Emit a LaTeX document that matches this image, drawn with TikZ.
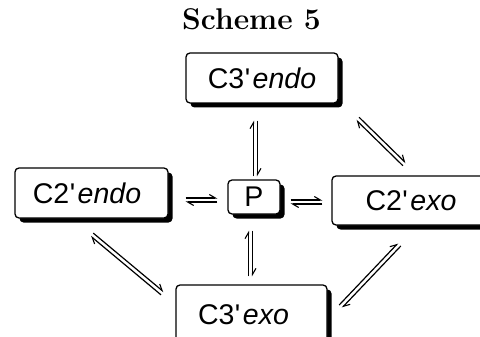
\documentclass[tikz,border=0pt]{standalone}
\usepackage{fontspec}
\setsansfont{Liberation Sans}
\usetikzlibrary{arrows.meta,calc,shadows}
\newcommand\eqarrow[2]{%
  \draw[harp] ($(#1)!2pt!90:(#2)$) -- ($(#2)!2pt!-90:(#1)$);
  \draw[harp] ($(#2)!2pt!90:(#1)$) -- ($(#1)!2pt!-90:(#2)$);}
\newcommand\apos{\kern0.5pt\textquotesingle\kern2.5pt}
\begin{document}
\begin{tikzpicture}[x=1pt,y=-1pt,
  box/.style={draw=black, line width=1.3pt, rounded corners=4pt, fill=white,
    drop shadow={shadow xshift=4.5pt, shadow yshift=-4.5pt, fill=black, opacity=1},
    font=\sffamily\fontsize{28.5}{32}\selectfont, inner sep=0pt, align=center},
  harp/.style={line width=1.2pt, -{Straight Barb[harpoon,length=6pt,width=7pt,line width=1.1pt]}}]
\useasboundingbox (0,0) rectangle (480,337);
\node[font=\fontsize{30}{34}\selectfont\bfseries, anchor=base] (title) at (251.5,30) {Scheme 5};
\node[box, minimum width=152pt, minimum height=50pt] (c3endo) at (262,78) {C3\apos\textit{endo}};
\node[box, minimum width=153pt, minimum height=50pt] (c2endo) at (91.5,193) {C2\apos\textit{endo}\kern9pt};
\node[box, minimum width=52pt, minimum height=34pt] (p) at (254,197) {P};
\node[box, minimum width=158pt, minimum height=49pt] (c2exo) at (411,200.5) {C2\apos\textit{exo}};
\node[box, minimum width=151pt, minimum height=60pt] (c3exo) at (251.5,315) {C3\apos\textit{exo}\kern16pt};
\coordinate (a1) at ([shift={(-6.5,17)}]c3endo.south);
\coordinate (b1) at ([shift={(1.5,-3)}]p.north);
\coordinate (a2) at ([shift={(17,7)}]c2endo.east);
\coordinate (b2) at ([shift={(-10,3)}]p.west);
\coordinate (a3) at ([shift={(10,5)}]p.east);
\coordinate (b3) at ([shift={(-9,1.5)}]c2exo.west);
\coordinate (a4) at ([shift={(-3.5,16)}]p.south);
\coordinate (b4) at ([shift={(-1,-8)}]c3exo.north);
\coordinate (a5) at ([shift={(19,15)}]c3endo.south east);
\coordinate (b5) at ([shift={(73,-11)}]c2exo.north west);
\coordinate (a6) at ([shift={(0.5,16)}]c2endo.south);
\coordinate (b6) at ([shift={(-13,9)}]c3exo.north west);
\coordinate (a7) at ([shift={(13,22)}]c3exo.north east);
\coordinate (b7) at ([shift={(68,19)}]c2exo.south west);
\eqarrow{a1}{b1}
\eqarrow{a2}{b2}
\eqarrow{a3}{b3}
\eqarrow{a4}{b4}
\eqarrow{a5}{b5}
\eqarrow{a6}{b6}
\eqarrow{a7}{b7}
\end{tikzpicture}
\end{document}
